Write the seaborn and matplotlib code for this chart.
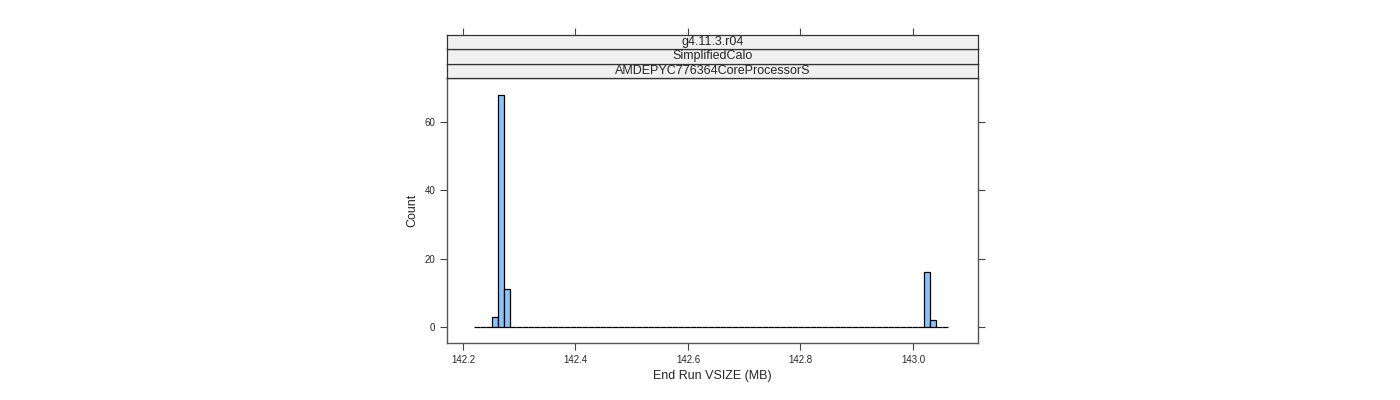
import numpy as np
import pandas as pd
import matplotlib
matplotlib.use("Agg")
import matplotlib.pyplot as plt
import seaborn as sns

# histogram: bin centers (MB) and counts
bin_width = 0.01067
first_edge = 142.2196
n_bins = 79
bar_centers = [142.2551, 142.2658, 142.2764, 143.0213, 143.0320]
bar_counts = [3, 68, 11, 16, 2]
strip_labels = ["g4.11.3.r04", "SimplifiedCalo", "AMDEPYC776364CoreProcessorS"]
x_ticks = [142.2, 142.4, 142.6, 142.8, 143.0]
y_ticks = [0, 20, 40, 60]

sns.set_style("white")
plt.rcParams['font.family'] = ['Liberation Sans', 'DejaVu Sans']

fig = plt.figure(figsize=(14, 4), dpi=100)
ax = fig.add_axes([447/1400, 57/400, 531/1400, 265/400])

df = pd.DataFrame({"vsize": bar_centers, "n": bar_counts})
edges = [first_edge + bin_width * i for i in range(n_bins + 1)]
sns.histplot(data=df, x="vsize", weights="n", bins=edges, ax=ax,
             color="#8EC3F5", alpha=1, edgecolor="black", linewidth=0.9)

ax.set_xlim(142.1716, 143.1156)
ax.set_ylim(-4.7, 72.9)
ax.set_xticks(x_ticks)
ax.set_xticklabels(["%.1f" % t for t in x_ticks])
ax.set_yticks(y_ticks)
ax.tick_params(axis="both", labelsize=7, direction="out", length=5, width=0.8,
               color="#444444", right=True, top=False, bottom=True, left=True)
ax.set_xlabel("End Run VSIZE (MB)", fontsize=9)
ax.set_ylabel("Count", fontsize=9)
for s in ax.spines.values():
    s.set_color("#555555")
    s.set_linewidth(1)

# lattice-style strips
strip_h = 14.4 / 400
for i, lab in enumerate(reversed(strip_labels)):
    sax = fig.add_axes([447/1400, (400 - 78)/400 + i * strip_h, 531/1400, strip_h])
    sax.set_facecolor("#F0F0F0")
    sax.set_xticks([])
    sax.set_yticks([])
    for s in sax.spines.values():
        s.set_color("#333333")
        s.set_linewidth(0.9)
    sax.text(0.5, 0.5, lab, ha="center", va="center", fontsize=9, transform=sax.transAxes)

# top ticks above strips
tax = fig.add_axes([447/1400, 57/400, 531/1400, 308/400], facecolor="none")
tax.set_xlim(ax.get_xlim())
tax.set_xticks(x_ticks)
tax.tick_params(axis="x", top=True, bottom=False, labeltop=False, labelbottom=False,
                direction="out", length=5, width=0.8, color="#444444")
tax.set_yticks([])
for s in tax.spines.values():
    s.set_visible(False)

fig.savefig("out.png", dpi=100)
